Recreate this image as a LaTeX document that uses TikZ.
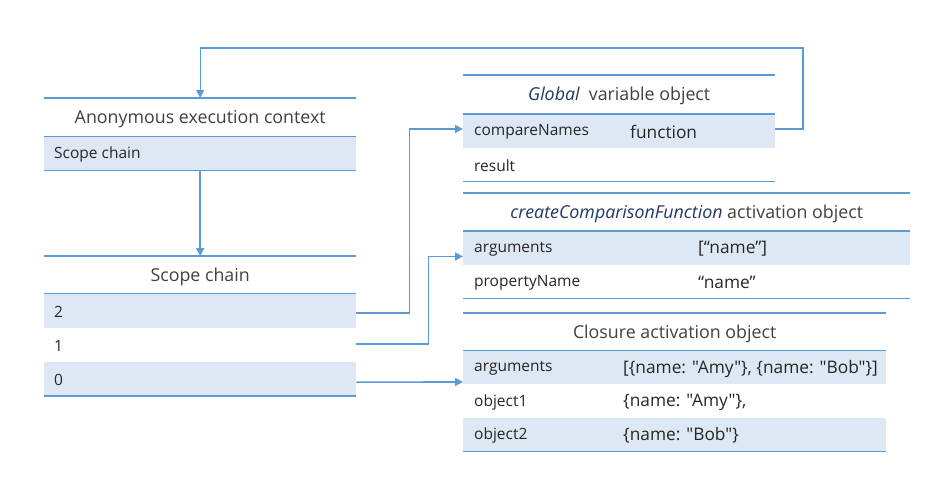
\documentclass[tikz,border=0pt]{standalone}
\usepackage{fontspec}
\setmainfont{Open Sans}
\newfontfamily\valfont{Open Sans}
\usetikzlibrary{arrows.meta,calc}
\definecolor{lineblue}{HTML}{5B9BD5}
\definecolor{rowfill}{HTML}{DEE8F4}
\definecolor{txt}{HTML}{262626}
\definecolor{ttl}{HTML}{404040}
\definecolor{navy}{HTML}{1F3864}
\begin{document}
\begin{tikzpicture}[x=1pt,y=1pt,
  hl/.style={draw=lineblue, line width=1.6pt},
  rowbox/.style={rectangle, inner sep=0pt, anchor=north west, minimum height=33.5pt},
  shaded/.style={fill=rowfill},
  rtext/.style={anchor=west, inner sep=0pt, yshift=-1.2pt, font=\fontsize{15.5}{18}\selectfont, text=txt},
  vtext/.style={anchor=west, inner sep=0pt, yshift=-1.2pt, font=\valfont\fontsize{17.3}{20}\selectfont, text=txt},
  ttext/.style={inner sep=0pt, yshift=-1.5pt, font=\fontsize{17.8}{21}\selectfont, text=ttl},
  conn/.style={draw=lineblue, line width=1.6pt, -{Triangle[length=8pt,width=8pt]}}
]
\useasboundingbox (0,0) rectangle (948,-501);

% ---------- Table A: Anonymous execution context ----------
\node[rowbox, minimum width=312pt, minimum height=38.5pt] (at) at (44,-98) {};
\node[ttext] at (at.center) {Anonymous execution context};
\node[rowbox, shaded, minimum width=312pt] (a1) at (44,-136.5) {};
\node[rtext] at ([xshift=10pt]a1.west) {Scope chain};
\draw[hl] (at.north west) -- (at.north east);
\draw[hl] (a1.north west) -- (a1.north east);
\draw[hl] (a1.south west) -- (a1.south east);

% ---------- Table B: Scope chain ----------
\node[rowbox, minimum width=312pt, minimum height=37.5pt] (bt) at (44,-256) {};
\node[ttext] at (bt.center) {Scope chain};
\node[rowbox, shaded, minimum width=312pt, minimum height=34pt] (b2) at (44,-293.5) {};
\node[rowbox, minimum width=312pt, minimum height=34pt] (b1) at (44,-327.5) {};
\node[rowbox, shaded, minimum width=312pt, minimum height=34pt] (b0) at (44,-361.5) {};
\node[rtext] at ([xshift=10pt]b2.west) {2};
\node[rtext] at ([xshift=10pt]b1.west) {1};
\node[rtext] at ([xshift=10pt]b0.west) {0};
\draw[hl] (bt.north west) -- (bt.north east);
\draw[hl] (b2.north west) -- (b2.north east);
\draw[hl] (b0.south west) -- (b0.south east);

% ---------- Table G: Global variable object ----------
\node[rowbox, minimum width=312pt, minimum height=39pt] (gt) at (463,-75) {};
\node[ttext] at (gt.center) {\textcolor{navy}{\itshape Global}\ \ variable object};
\node[rowbox, shaded, minimum width=312pt] (g1) at (463,-114) {};
\node[rowbox, minimum width=312pt] (g2) at (463,-147.5) {};
\node[rtext] at ([xshift=11pt]g1.west) {compareNames};
\node[vtext] at ([xshift=167pt]g1.west) {function};
\node[rtext] at ([xshift=11pt]g2.west) {result};
\draw[hl] (gt.north west) -- (gt.north east);
\draw[hl] (g1.north west) -- (g1.north east);
\draw[hl] (g2.south west) -- (g2.south east);

% ---------- Table C: createComparisonFunction activation object ----------
\node[rowbox, minimum width=447pt, minimum height=38pt] (ct) at (463,-193) {};
\node[ttext] at (ct.center) {\textcolor{navy}{\itshape createComparisonFunction} activation object};
\node[rowbox, shaded, minimum width=447pt] (c1) at (463,-231) {};
\node[rowbox, minimum width=447pt] (c2) at (463,-264.5) {};
\node[rtext] at ([xshift=11pt]c1.west) {arguments};
\node[vtext] at ([xshift=235pt]c1.west) {[“name”]};
\node[rtext] at ([xshift=11pt]c2.west) {propertyName};
\node[vtext] at ([xshift=235pt]c2.west) {“name”};
\draw[hl] (ct.north west) -- (ct.north east);
\draw[hl] (c1.north west) -- (c1.north east);
\draw[hl] (c2.south west) -- (c2.south east);

% ---------- Table D: Closure activation object ----------
\node[rowbox, minimum width=423pt, minimum height=37.5pt] (dt) at (463,-313) {};
\node[ttext] at (dt.center) {Closure activation object};
\node[rowbox, shaded, minimum width=423pt] (d1) at (463,-350.5) {};
\node[rowbox, minimum width=423pt] (d2) at (463,-384) {};
\node[rowbox, shaded, minimum width=423pt] (d3) at (463,-417.5) {};
\node[rtext] at ([xshift=11pt]d1.west) {arguments};
\node[vtext] at ([xshift=160pt]d1.west) {[\{name: "Amy"\}, \{name: "Bob"\}]};
\node[rtext] at ([xshift=11pt]d2.west) {object1};
\node[vtext] at ([xshift=160pt]d2.west) {\{name: "Amy"\},};
\node[rtext] at ([xshift=11pt]d3.west) {object2};
\node[vtext] at ([xshift=160pt]d3.west) {\{name: "Bob"\}};
\draw[hl] (dt.north west) -- (dt.north east);
\draw[hl] (d1.north west) -- (d1.north east);
\draw[hl] (d3.south west) -- (d3.south east);

% ---------- Connectors ----------
\draw[conn] (a1.south) -- (bt.north);
\draw[conn] ([yshift=-2.5pt]b2.east) -- ++(53pt,0) |- ([yshift=2pt]g1.west);
\draw[conn] ([yshift=0.5pt]b1.east) -- ++(72pt,0) |- ([yshift=-8.5pt]c1.west);
\draw[conn] ([yshift=-3.5pt]b0.east) -- ([yshift=-14.5pt]d1.west);
\coordinate (loop) at (803,-48);
\draw[conn, line width=1.1pt] ([yshift=2pt]g1.east) -| (loop) -| (at.north);
\end{tikzpicture}
\end{document}
